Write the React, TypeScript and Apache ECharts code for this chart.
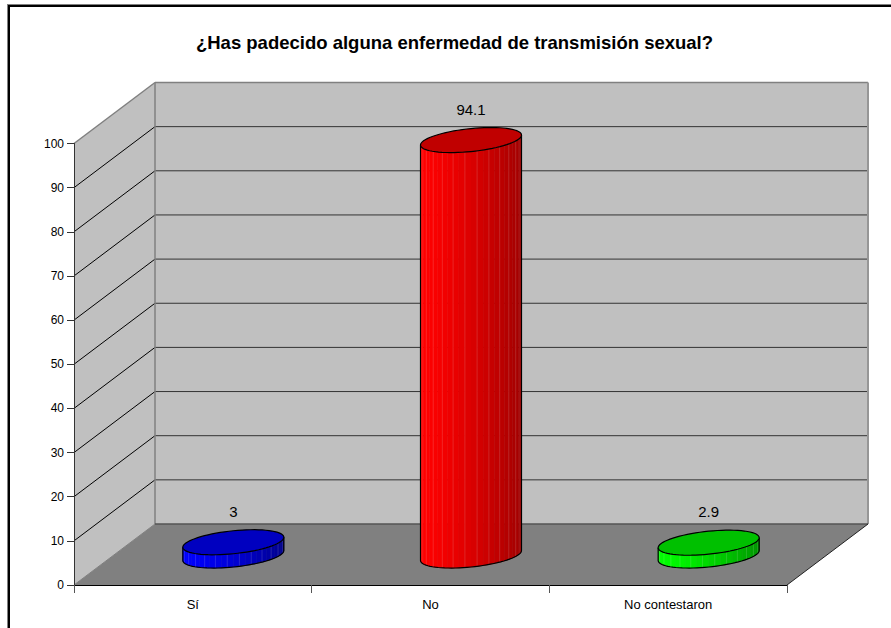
import React, { useEffect, useRef } from "react";
import * as echarts from "echarts";

const titleText = "¿Has padecido alguna enfermedad de transmisión sexual?";
const categories = ["Sí", "No", "No contestaron"];
const values = [3, 94.1, 2.9];
const gridTicks = [10, 20, 30, 40, 50, 60, 70, 80, 90, 100];
const palette = [
  { top: [0, 0, 192], side: [0, 0, 255], dark: [0, 0, 140] },
  { top: [192, 0, 0], side: [255, 0, 0], dark: [160, 0, 0] },
  { top: [0, 192, 0], side: [0, 255, 0], dark: [0, 150, 0] },
];

const FONT = '"Liberation Sans", Arial, sans-serif';
const DX = 81;
const DY = -61;
const RX = 50.5;
const RY = 11.5;
const TILT = 5;
const SEGMENTS = 26;

const rgb = (c: number[]) => `rgb(${c.map((v) => Math.round(v)).join(",")})`;
const mix = (a: number[], b: number[], u: number) => a.map((v, i) => v + (b[i] - v) * u);

function renderWalls(params: any, api: any) {
  const g = params.coordSys;
  const x0 = g.x, x1 = g.x + g.width, yTop = g.y, yBase = g.y + g.height;
  const children: any[] = [
    { type: "polygon", shape: { points: [[x0 + DX, yTop + DY], [x1 + DX, yTop + DY], [x1 + DX, yBase + DY], [x0 + DX, yBase + DY]] }, style: { fill: "#c0c0c0" } },
    { type: "polygon", shape: { points: [[x0, yTop], [x0 + DX, yTop + DY], [x0 + DX, yBase + DY], [x0, yBase]] }, style: { fill: "#c0c0c0" } },
    { type: "polygon", shape: { points: [[x0, yBase], [x1, yBase], [x1 + DX, yBase + DY], [x0 + DX, yBase + DY]] }, style: { fill: "#808080" } },
  ];
  gridTicks.forEach((t) => {
    const y = api.coord([0, t])[1];
    if (t < 100) {
      children.push({ type: "polyline", shape: { points: [[x0, y], [x0 + DX, y + DY]] }, style: { fill: "none", stroke: "#000", lineWidth: 1 } });
    } else {
      children.push({ type: "polyline", shape: { points: [[x0, y], [x0 + DX, y + DY]] }, style: { fill: "none", stroke: "#808080", lineWidth: 1.5 } });
    }
  });
  gridTicks.forEach((t) => {
    const y = api.coord([0, t])[1] + DY;
    children.push({ type: "polyline", shape: { points: [[x0 + DX, y], [x1 + DX, y]] }, style: { fill: "none", stroke: t === 100 ? "#808080" : "#333", lineWidth: t === 100 ? 1.5 : 1 } });
  });
  children.push(
    { type: "polyline", shape: { points: [[x0 + DX, yTop + DY], [x0 + DX, yBase + DY]] }, style: { fill: "none", stroke: "#808080", lineWidth: 1.5 } },
    { type: "polyline", shape: { points: [[x1 + DX, yTop + DY], [x1 + DX, yBase + DY]] }, style: { fill: "none", stroke: "#969696", lineWidth: 2 } },
    { type: "polyline", shape: { points: [[x0 + DX, yBase + DY], [x1 + DX, yBase + DY]] }, style: { fill: "none", stroke: "#555", lineWidth: 1.5 } },
    { type: "polyline", shape: { points: [[x0, yBase], [x0 + DX, yBase + DY]] }, style: { fill: "none", stroke: "#808080", lineWidth: 1 } },
    { type: "polyline", shape: { points: [[x1, yBase], [x1 + DX, yBase + DY]] }, style: { fill: "none", stroke: "#222", lineWidth: 1 } },
  );
  return { type: "group", children };
}

function renderCylinder(params: any, api: any) {
  const idx = api.value(0);
  const val = api.value(1);
  const base = api.coord([idx, 0]);
  const top = api.coord([idx, val]);
  const cx = base[0] + DX / 2;
  const cyB = base[1] + DY / 2 + 1;
  const cyT = top[1] + DY / 2 + 1;
  const colors = palette[params.dataIndex];
  const pt = (t: number, cy: number) => [cx + RX * Math.cos(t), cy - TILT * Math.cos(t) + RY * Math.sin(t)];
  const children: any[] = [];
  for (let i = 0; i < SEGMENTS; i++) {
    const a = Math.PI - (Math.PI * i) / SEGMENTS;
    const b = Math.PI - (Math.PI * (i + 1)) / SEGMENTS;
    const u = (pt(a, 0)[0] - (cx - RX)) / (2 * RX);
    const c = rgb(mix(colors.side, colors.dark, Math.pow(u, 1.3)));
    children.push({
      type: "polygon",
      shape: { points: [pt(a, cyT), pt(b, cyT), pt(b, cyB), pt(a, cyB)] },
      style: { fill: c, stroke: c, lineWidth: 0.5 },
    });
    if (i > 0 && i % 2 === 0) {
      const p1 = pt(a, cyT), p2 = pt(a, cyB);
      children.push({
        type: "polyline",
        shape: { points: [p1, p2] },
        style: { fill: "none", stroke: rgb(mix(c.match(/\d+/g)!.map(Number), [255, 255, 255], 0.14)), lineWidth: 1 },
      });
    }
  }
  const outline: number[][] = [];
  for (let i = 0; i <= 40; i++) outline.push(pt(Math.PI - (Math.PI * i) / 40, cyB));
  children.push({
    type: "polyline",
    shape: { points: [pt(Math.PI, cyT), ...outline, pt(0, cyT)] },
    style: { fill: "none", stroke: "#000", lineWidth: 1.2 },
  });
  const ring: number[][] = [];
  for (let i = 0; i < 72; i++) ring.push(pt((2 * Math.PI * i) / 72, cyT));
  children.push({
    type: "polygon",
    shape: { points: ring },
    style: { fill: rgb(colors.top), stroke: "#000", lineWidth: 1.2 },
  });
  children.push({
    type: "text",
    style: { text: String(val), x: cx, y: cyT - 31, fill: "#000", font: `15px ${FONT}`, align: "center", verticalAlign: "middle" },
  });
  return { type: "group", children };
}

export default function App() {
  const ref = useRef<HTMLDivElement>(null);
  useEffect(() => {
    const chart = echarts.init(ref.current!, undefined, { renderer: "svg" });
    chart.setOption({
      animation: false,
      backgroundColor: "#fff",
      title: {
        text: titleText,
        left: 449.5,
        top: 28,
        textAlign: "center",
        textStyle: { fontFamily: FONT, fontSize: 18.5, fontWeight: "bold", color: "#000" },
      },
      grid: { left: 74, right: 104, top: 143.5, bottom: 43 },
      xAxis: {
        type: "category",
        data: categories,
        z: 5,
        axisLine: { lineStyle: { color: "#000", width: 1 } },
        axisTick: { show: true, length: 8, alignWithLabel: false, lineStyle: { color: "#555" } },
        axisLabel: { fontFamily: FONT, fontSize: 13, color: "#000", margin: 13 },
      },
      yAxis: {
        type: "value",
        min: 0,
        max: 100,
        interval: 10,
        z: 5,
        axisLine: { show: true, lineStyle: { color: "#333", width: 1 } },
        axisTick: { show: true, length: 7, lineStyle: { color: "#333" } },
        axisLabel: { fontFamily: FONT, fontSize: 12, color: "#000", margin: 10 },
        splitLine: { show: false },
      },
      graphic: [
        { type: "rect", shape: { x: 7, y: 4, width: 884, height: 1 }, style: { fill: "#808080" } },
        { type: "rect", shape: { x: 8, y: 5, width: 883, height: 2 }, style: { fill: "#000" } },
        { type: "rect", shape: { x: 7, y: 4, width: 1, height: 624 }, style: { fill: "#808080" } },
        { type: "rect", shape: { x: 8, y: 5, width: 2, height: 623 }, style: { fill: "#000" } },
      ],
      series: [
        { type: "custom", silent: true, clip: false, z: 1, data: [[0, 0]], renderItem: renderWalls },
        {
          type: "custom",
          clip: false,
          z: 3,
          encode: { x: 0, y: 1 },
          data: values.map((v, i) => [i, v]),
          renderItem: renderCylinder,
        },
      ],
    });
    return () => chart.dispose();
  }, []);
  return <div ref={ref} style={{ position: "absolute", left: 0, top: 0, width: 891, height: 628 }} />;
}
